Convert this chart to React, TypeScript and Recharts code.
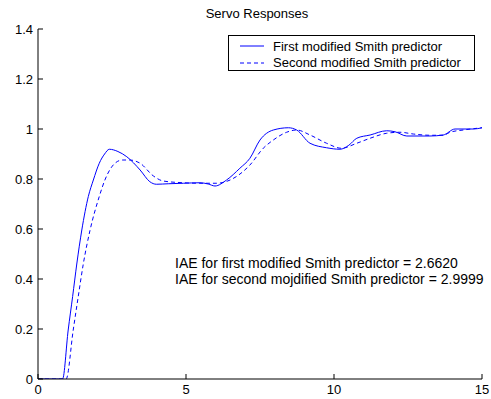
import { Line, LineChart, XAxis, YAxis } from 'recharts';

// time (s) and output for each controller
const firstTime = [0, 0.83, 1.02, 1.17, 1.31, 1.48, 1.7, 1.87, 2.07, 2.25, 2.41, 2.7, 3.0, 3.45, 3.78, 4.0, 4.4, 4.91, 5.47, 5.75, 5.98, 6.37, 6.82, 7.16, 7.5, 7.95, 8.46, 8.74, 9.19, 9.75, 10.2, 10.5, 10.77, 11.22, 11.78, 12.06, 12.46, 13.24, 13.69, 14.09, 14.71, 15];
const firstValue = [0, 0, 0.196, 0.33, 0.46, 0.596, 0.73, 0.796, 0.863, 0.9, 0.919, 0.91, 0.889, 0.836, 0.789, 0.779, 0.781, 0.783, 0.785, 0.78, 0.772, 0.796, 0.843, 0.883, 0.956, 0.996, 1.005, 0.996, 0.943, 0.925, 0.919, 0.935, 0.963, 0.976, 0.993, 0.989, 0.972, 0.972, 0.976, 1.0, 1.0, 1.005];

const secondTime = [0, 0.95, 1.19, 1.36, 1.53, 1.76, 2.07, 2.26, 2.6, 2.85, 3.1, 3.45, 3.9, 4.23, 4.91, 5.47, 6.04, 6.49, 7.16, 7.61, 7.95, 8.4, 8.74, 9.19, 9.75, 10.25, 10.77, 11.22, 11.78, 12.23, 12.68, 13.24, 13.69, 13.92, 14.37, 15];
const secondValue = [0, 0, 0.196, 0.33, 0.46, 0.596, 0.73, 0.796, 0.863, 0.876, 0.876, 0.863, 0.812, 0.792, 0.785, 0.783, 0.783, 0.796, 0.856, 0.923, 0.956, 0.987, 0.996, 0.976, 0.943, 0.923, 0.943, 0.963, 0.983, 0.987, 0.98, 0.975, 0.975, 0.987, 0.996, 1.005];

const xTicks = [0, 5, 10, 15];
const yTicks = [0, 0.2, 0.4, 0.6, 0.8, 1, 1.2, 1.4];

const seriesNames = ['First modified Smith predictor', 'Second modified Smith predictor'];
const annotations = [
  'IAE for first modified Smith predictor = 2.6620',
  'IAE for second mojdified Smith predictor = 2.9999'
];

const FONT = '"Liberation Sans", Arial, sans-serif';
const BLUE = '#0000ff';
const TICK = 5;

const firstData = firstTime.map((t, i) => ({ t, y: firstValue[i] }));
const secondData = secondTime.map((t, i) => ({ t, y: secondValue[i] }));

function BottomTick(props: any) {
  const { x, y, payload } = props;
  const axisY = y - 6;
  return (
    <g>
      <line x1={x} y1={axisY} x2={x} y2={axisY - TICK} stroke="#000" />
      <text x={x} y={y} dy="0.71em" textAnchor="middle" fontSize={13} fontFamily={FONT} fill="#000">
        {payload.value}
      </text>
    </g>
  );
}

function LeftTick(props: any) {
  const { x, y, payload } = props;
  const axisX = x + 5;
  return (
    <g>
      <line x1={axisX} y1={y} x2={axisX + TICK} y2={y} stroke="#000" />
      <text x={x} y={y} dy="0.355em" textAnchor="end" fontSize={13} fontFamily={FONT} fill="#000">
        {payload.value}
      </text>
    </g>
  );
}

function TopTick(props: any) {
  const { x, y } = props;
  return <line x1={x} y1={y} x2={x} y2={y + TICK} stroke="#000" />;
}

function RightTick(props: any) {
  const { x, y } = props;
  return <line x1={x} y1={y} x2={x - TICK} y2={y} stroke="#000" />;
}

export default function App() {
  return (
    <div style={{ position: 'absolute', left: 0, top: 0, width: 491, height: 399, background: '#fff', fontFamily: FONT }}>
      <LineChart width={491} height={399} margin={{ top: 29, right: 9, bottom: 0, left: 0 }}>
        <XAxis
          dataKey="t"
          type="number"
          domain={[0, 15]}
          ticks={xTicks}
          allowDataOverflow
          height={20}
          tickSize={0}
          tickMargin={6}
          tickLine={false}
          axisLine={{ stroke: '#000' }}
          tick={BottomTick}
        />
        <XAxis
          xAxisId="top"
          orientation="top"
          type="number"
          domain={[0, 15]}
          ticks={xTicks}
          allowDataOverflow
          height={0}
          tickSize={0}
          tickMargin={0}
          tickLine={false}
          axisLine={{ stroke: '#000' }}
          tick={TopTick}
        />
        <YAxis
          type="number"
          domain={[0, 1.4]}
          ticks={yTicks}
          allowDataOverflow
          width={38}
          tickSize={0}
          tickMargin={5}
          tickLine={false}
          axisLine={{ stroke: '#000' }}
          tick={LeftTick}
        />
        <YAxis
          yAxisId="right"
          orientation="right"
          type="number"
          domain={[0, 1.4]}
          ticks={yTicks}
          allowDataOverflow
          width={0}
          tickSize={0}
          tickMargin={0}
          tickLine={false}
          axisLine={{ stroke: '#000' }}
          tick={RightTick}
        />
        <Line
          data={firstData}
          dataKey="y"
          name={seriesNames[0]}
          type="monotone"
          stroke={BLUE}
          strokeWidth={1}
          dot={false}
          isAnimationActive={false}
        />
        <Line
          data={secondData}
          dataKey="y"
          name={seriesNames[1]}
          type="monotone"
          stroke={BLUE}
          strokeWidth={1}
          strokeDasharray="4 3"
          dot={false}
          isAnimationActive={false}
        />
      </LineChart>

      <div style={{ position: 'absolute', left: 157, top: 6, width: 200, textAlign: 'center', fontSize: 13, lineHeight: '16px' }}>
        Servo Responses
      </div>

      <div
        style={{
          position: 'absolute',
          left: 228,
          top: 35,
          width: 245,
          height: 34,
          border: '1px solid #000',
          background: '#fff',
          fontSize: 13
        }}
      >
        {seriesNames.map((name, i) => (
          <div key={name} style={{ position: 'absolute', left: 0, top: 2 + i * 16.6, height: 16, display: 'flex', alignItems: 'center' }}>
            <svg width={44} height={16}>
              <line x1={11} y1={8} x2={35} y2={8} stroke={BLUE} strokeDasharray={i === 1 ? '4 3' : undefined} />
            </svg>
            <span style={{ whiteSpace: 'nowrap' }}>{name}</span>
          </div>
        ))}
      </div>

      <div style={{ position: 'absolute', left: 175, top: 255, fontSize: 14, lineHeight: '16px', whiteSpace: 'nowrap' }}>
        {annotations.map((a) => (
          <div key={a}>{a}</div>
        ))}
      </div>
    </div>
  );
}
